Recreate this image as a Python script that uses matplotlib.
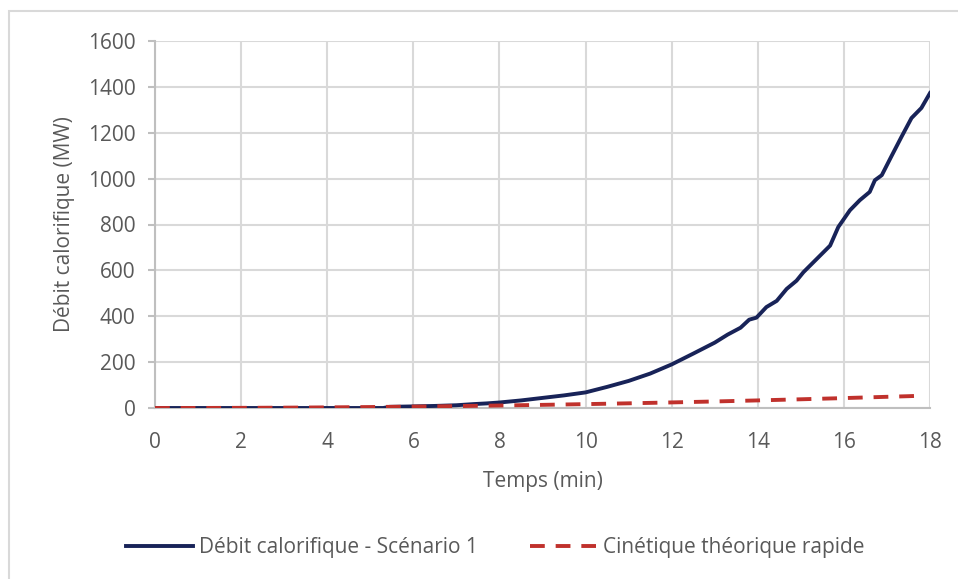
import numpy as np
import matplotlib
matplotlib.use('Agg')
import matplotlib.pyplot as plt
from matplotlib.patches import Rectangle

# values
t_scen = [0, 1, 2, 3, 4, 5, 5.3, 5.45, 6, 6.5, 7, 7.4, 7.7, 8, 8.5, 9, 9.5, 10,
          10.5, 11, 11.5, 12, 12.5, 13, 13.3, 13.6, 13.8, 13.97, 14.2, 14.44, 14.67,
          14.9, 15.06, 15.37, 15.68, 15.87, 16.14, 16.37, 16.6, 16.72, 16.88,
          17.1, 17.34, 17.57, 17.8, 18]
q_scen = [0, 0, 0, 0, 0, 0, 0, 5, 7, 9, 12, 17, 20, 24, 33, 44, 55, 68,
          92, 118, 150, 190, 237, 285, 320, 350, 385, 394, 440, 467, 519,
          555, 592, 650, 708, 789, 862, 906, 942, 993, 1015,
          1096, 1183, 1264, 1308, 1373]

t_fast = [0, 1, 2, 3, 4, 5, 6, 7, 8, 9, 10, 11, 12, 13, 14, 15, 16, 17, 17.5, 17.8]
q_fast = [0, 0.2, 0.7, 1.5, 2.7, 4.2, 6.1, 8.3, 10.8, 13.7, 16.9, 20.4, 24.3,
          28.5, 33.1, 38, 43.2, 48.8, 51.5, 53.5]

x_ticks = list(range(0, 19, 2))
y_ticks = list(range(0, 1601, 200))

label_scen = 'Débit calorifique - Scénario 1'
label_fast = 'Cinétique théorique rapide'

TXT = '#595959'
GRID = '#d9d9d9'

plt.rcParams['font.family'] = ['Open Sans', 'DejaVu Sans']

fig = plt.figure(figsize=(9.58, 5.79), dpi=100)
W, H = 958, 579

# outer chart frame
fig.patches.append(Rectangle((9 / W, -0.1), 1.2, 1 - 11 / H + 0.1, transform=fig.transFigure,
                             fill=False, edgecolor=GRID, linewidth=1.5))

ax = fig.add_axes([155 / W, 1 - 408 / H, (930 - 155) / W, (408 - 41) / H])

ax.plot(t_scen, q_scen, color='#182358', linewidth=2.8, label=label_scen, zorder=3)
ax.plot(t_fast, q_fast, color='#c0312c', linewidth=2.8, dashes=(3.8, 2.8),
        label=label_fast, zorder=4)

ax.set_xlim(0, 18)
ax.set_ylim(0, 1600)
ax.set_xticks(x_ticks)
ax.set_yticks(y_ticks)
ax.grid(True, color=GRID, linewidth=1.5)
ax.set_axisbelow(True)

for side in ['top', 'right']:
    ax.spines[side].set_visible(False)
for side in ['left', 'bottom']:
    ax.spines[side].set_color('#bfbfbf')
    ax.spines[side].set_linewidth(1.5)

ax.tick_params(axis='y', length=5, width=1.5, color='#bfbfbf', labelcolor=TXT,
               labelsize=15, pad=9)
ax.tick_params(axis='x', length=0, labelcolor=TXT, labelsize=15, pad=17)

ax.set_xlabel('Temps (min)', color=TXT, fontsize=15, labelpad=13)
ax.set_ylabel('Débit calorifique (MW)', color=TXT, fontsize=15, labelpad=9)

ax.legend(loc='center', bbox_to_anchor=(495 / W, (H - 548) / H), bbox_transform=fig.transFigure,
          ncol=2, frameon=False, fontsize=15, labelcolor=TXT, handlelength=3.2,
          handletextpad=0.3, columnspacing=2.5)

fig.savefig('out.png', dpi=100)
